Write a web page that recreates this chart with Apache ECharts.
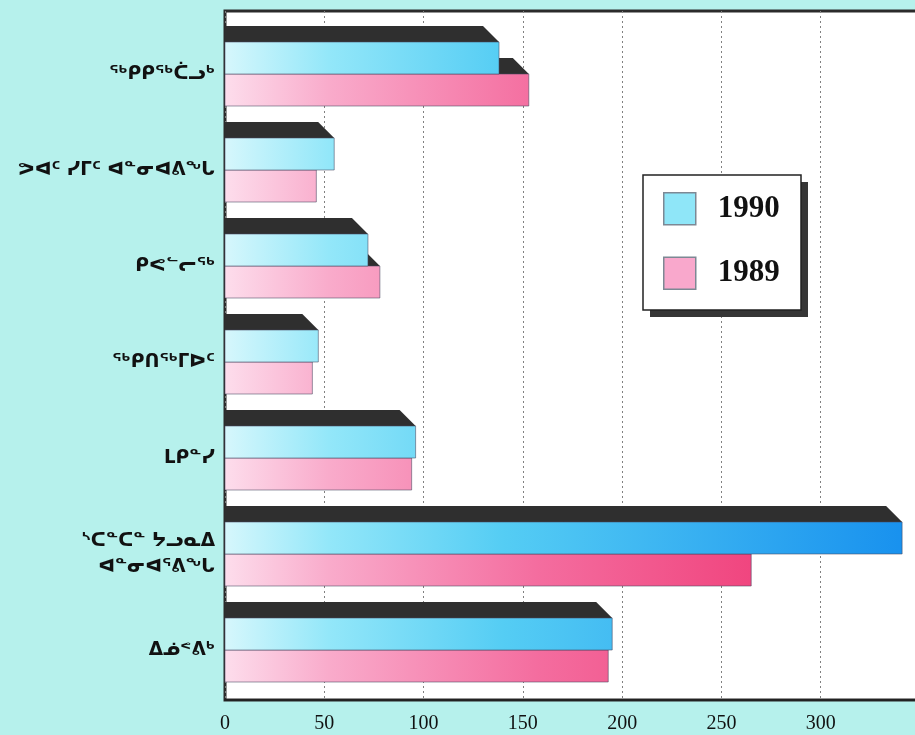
<!DOCTYPE html>
<html>
<head>
<meta charset="utf-8">
<script src="https://cdn.jsdelivr.net/npm/echarts@6/dist/echarts.min.js"></script>
<style>
  html, body { margin: 0; padding: 0; background: #b6f1ec; }
  #chart { width: 915px; height: 735px; }
</style>
</head>
<body>
<div id="chart"></div>
<script>
// Health regions (Inuktitut syllabics), top to bottom
const regions = [
  'ᖅᑭᑭᖅᑖᓗᒃ',
  'ᕗᐊᑦ ᓯᒥᑦ ᐊᓐᓂᐊᕕᖓ',
  'ᑭᕙᓪᓕᖅ',
  'ᖅᑭᑎᖅᒥᐅᑦ',
  'ᒪᑭᓐᓯ',
  'ᔅᑕᓐᑕᓐ ᔭᓗᓇᐃ\nᐊᓐᓂᐊᕐᕕᖓ',
  'ᐃᓅᕝᕕᒃ'
];
const years = ['1990', '1989'];
const values1990 = [138, 55, 72, 47, 96, 341, 195];
const values1989 = [153, 46, 78, 44, 94, 265, 193];

// plot runs past the right edge of the page, so the frame shows no right side
const AXIS_MAX = 349;
const TICK_STEP = 50;

const cyanStops = [
  { offset: 0, color: '#d6f7fc' },
  { offset: 0.15, color: '#93e7f9' },
  { offset: 0.4, color: '#55cdf4' },
  { offset: 1, color: '#168fee' }
];
const pinkStops = [
  { offset: 0, color: '#fdddec' },
  { offset: 0.15, color: '#f9abcb' },
  { offset: 0.45, color: '#f46d9f' },
  { offset: 0.78, color: '#f0437d' },
  { offset: 1, color: '#e63070' }
];

// Bar with an oblique dark top face; `upper` puts the bar in the top half of the band
function makeRenderer(upper, stops) {
  return function (params, api) {
    const idx = api.value(1);
    const val = api.value(0);
    const start = api.coord([0, idx]);
    const end = api.coord([val, idx]);
    const gradEnd = api.coord([AXIS_MAX, idx]);
    const band = api.size([0, 1])[1];
    const h = band / 3;
    const d = band / 6;
    const yTop = upper ? end[1] - h : end[1];
    const x0 = start[0];
    const x1 = end[0];
    return {
      type: 'group',
      children: [
        {
          type: 'polygon',
          shape: { points: [[x0, yTop - d], [x1 - d, yTop - d], [x1, yTop], [x0, yTop]] },
          style: { fill: '#2f2f2f' }
        },
        {
          type: 'rect',
          shape: { x: x0, y: yTop, width: x1 - x0, height: h },
          style: {
            fill: {
              type: 'linear', x: x0, y: 0, x2: gradEnd[0], y2: 0, global: true,
              colorStops: stops
            },
            stroke: 'rgba(70,70,95,0.55)',
            lineWidth: 1
          }
        }
      ]
    };
  };
}

const chart = echarts.init(document.getElementById('chart'));
chart.setOption({
  backgroundColor: '#b6f1ec',
  animation: false,
  grid: [
    { left: 225, right: -3, top: 11, bottom: 35, show: true, backgroundColor: '#ffffff',
      borderColor: '#2b2b2b', borderWidth: 3, containLabel: false, outerBoundsMode: 'none' },
    { left: 225, right: -3, top: 26, bottom: 37, containLabel: false, outerBoundsMode: 'none' }
  ],
  xAxis: [
    {
      gridIndex: 0, type: 'value', min: 0, max: AXIS_MAX, interval: TICK_STEP,
      axisLine: { show: true, lineStyle: { color: '#222', width: 2 } },
      axisTick: { show: false },
      splitLine: { show: true, lineStyle: { color: '#808080', type: [2, 3], width: 1 } },
      axisLabel: { showMaxLabel: false, fontFamily: 'Liberation Serif', fontSize: 20,
        color: '#111', margin: 14 }
    },
    { gridIndex: 1, type: 'value', min: 0, max: AXIS_MAX, show: false }
  ],
  yAxis: [
    { gridIndex: 0, type: 'value', show: false },
    {
      gridIndex: 1, type: 'category', data: regions, inverse: true,
      axisLine: { show: false }, axisTick: { show: false }, splitLine: { show: false },
      axisLabel: { fontFamily: 'DejaVu Sans', fontWeight: 'bold', fontSize: 18.5,
        color: '#111', margin: 10, lineHeight: 26, align: 'right' }
    }
  ],
  // legend frame with its hard drop shadow
  graphic: [
    { type: 'rect', z: 3, shape: { x: 650, y: 182, width: 158, height: 135 },
      style: { fill: '#363636' } },
    { type: 'rect', z: 3, shape: { x: 643, y: 175, width: 158, height: 135 },
      style: { fill: '#ffffff', stroke: '#222', lineWidth: 1.5 } }
  ],
  legend: {
    data: years,
    orient: 'vertical',
    left: 643, top: 175,
    padding: [17, 22, 21, 20],
    itemWidth: 32, itemHeight: 32, itemGap: 31,
    icon: 'rect',
    itemStyle: { borderColor: '#7d8894', borderWidth: 1.5 },
    z: 5,
    textStyle: { fontFamily: 'Liberation Serif', fontWeight: 'bold', fontSize: 31,
      color: '#111', padding: [0, 0, 0, 17] }
  },
  series: [
    {
      name: years[0], type: 'custom', xAxisIndex: 1, yAxisIndex: 1, z: 3,
      itemStyle: { color: '#8fe6f8' },
      encode: { x: 0, y: 1 },
      data: values1990.map((v, i) => [v, i]),
      renderItem: makeRenderer(true, cyanStops)
    },
    {
      name: years[1], type: 'custom', xAxisIndex: 1, yAxisIndex: 1, z: 2,
      itemStyle: { color: '#f9a8cc' },
      encode: { x: 0, y: 1 },
      data: values1989.map((v, i) => [v, i]),
      renderItem: makeRenderer(false, pinkStops)
    }
  ]
});
</script>
</body>
</html>
